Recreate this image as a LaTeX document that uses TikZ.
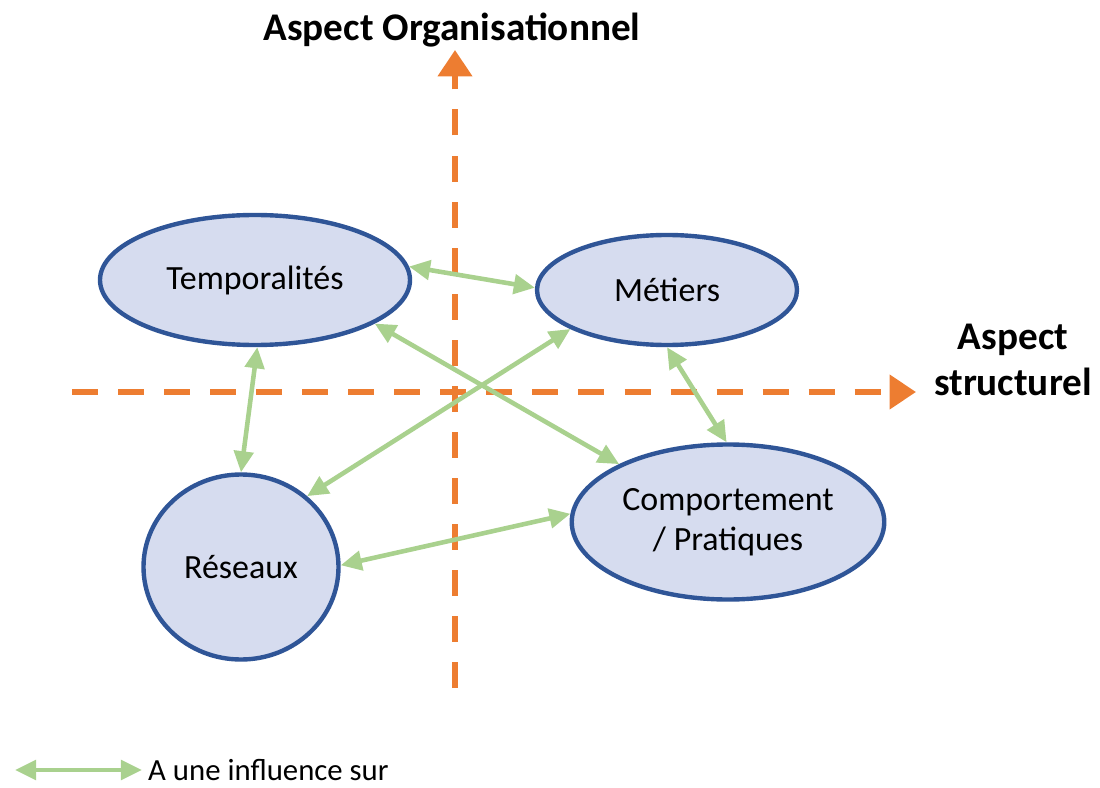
\documentclass[tikz,border=0pt]{standalone}
\usepackage{fontspec}
\setmainfont{Carlito}
\usetikzlibrary{arrows.meta,shapes.geometric}

\definecolor{axisorange}{HTML}{ED7D31}
\definecolor{linkgreen}{HTML}{A9D18E}
\definecolor{bubblefill}{HTML}{D6DCEF}
\definecolor{bubbleline}{HTML}{2F5597}

\tikzset{
  bubble/.style={ellipse, draw=bubbleline, fill=bubblefill, line width=2.5pt,
    inner sep=0pt, align=center, font=\fontsize{19.3}{23}\selectfont},
  axis/.style={draw=axisorange, line width=3.4pt, dash pattern=on 14.8pt off 11.4pt,
    -{Triangle[length=15pt,width=19pt,fill=axisorange]}},
  link/.style={draw=linkgreen, line width=2.6pt,
    {Triangle[length=12pt,width=11pt]}-{Triangle[length=12pt,width=11pt]}},
  axislabel/.style={font=\bfseries\fontsize{22.3}{26}\selectfont, align=center}
}

\begin{document}
\begin{tikzpicture}[x=0.2mm,y=-0.2mm]
        % Size of the picture
        \useasboundingbox (0,0) rectangle (1100,788);

        % End points of the axes
        \coordinate (vbottom) at (455,688);
        \coordinate (vtop) at (455,50);
        \coordinate (hleft) at (72,392);
        \coordinate (hright) at (916,392);

        % Draw the axes
        \draw[axis] (vbottom) -- (vtop);
        \draw[axis] (hleft) -- (hright);

        % Label the axes
        \node[axislabel] (orga) at (452,30) {Aspect Organisationnel};
        \node[axislabel] (struct) at (1013,360) {Aspect\\structurel};

        % The four themes
        \node[bubble, minimum width=62mm, minimum height=26mm] (temp) at (255,280) {Temporalités};
        \node[bubble, minimum width=52mm, minimum height=22mm] (metiers) at (667,290) {Métiers};
        \node[bubble, minimum width=39mm, minimum height=37mm] (reseaux) at (241,567) {Réseaux};
        \node[bubble, minimum width=62.5mm, minimum height=31mm] (comport) at (728,522) {Comportement\\/ Pratiques};

        % Draw the influences
        \draw[link] (temp.5) -- (metiers.179);
        \draw[link] (temp.-20) -- (comport.152);
        \draw[link] (temp.-88) -- (reseaux.90);
        \draw[link] (metiers.-158) -- (reseaux.47);
        \draw[link] (metiers.-90) -- (comport.91);
        \draw[link] (reseaux.1) -- (comport.177);

        % Legend
        \coordinate (lstart) at (15,770);
        \coordinate (lend) at (142,770);
        \draw[link] (lstart) -- (lend);
        \node[anchor=west, font=\fontsize{17.5}{21}\selectfont] (legend) at (lend) {A une influence sur};

    \end{tikzpicture}
\end{document}
